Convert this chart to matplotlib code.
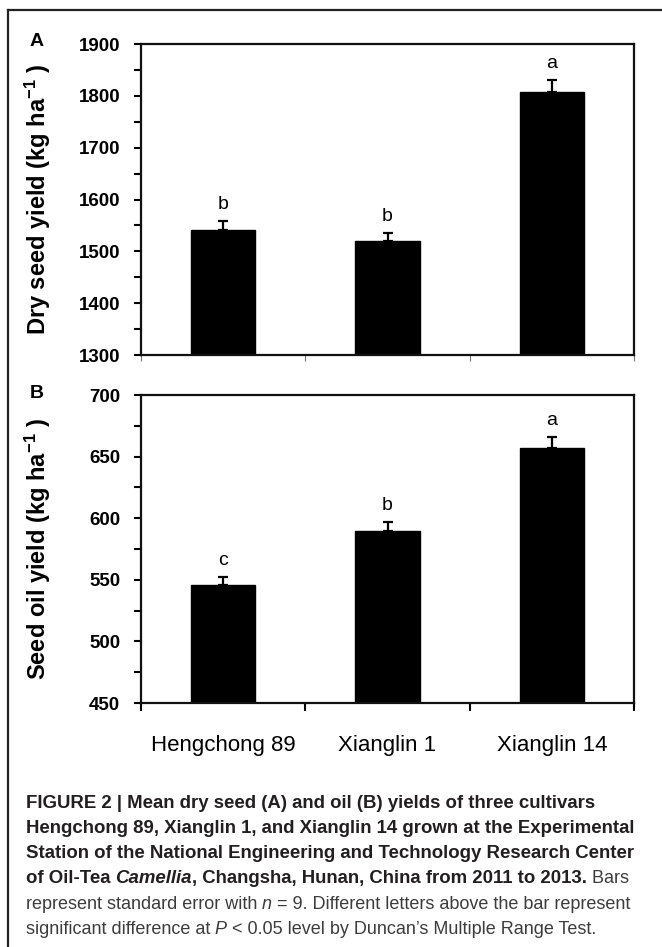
import matplotlib
matplotlib.use("Agg")
import matplotlib.pyplot as plt
from matplotlib import font_manager
from matplotlib.ticker import MultipleLocator, FixedLocator, NullFormatter
from matplotlib.lines import Line2D

# ---------------- data ----------------
cultivars = ["Hengchong 89", "Xianglin 1", "Xianglin 14"]
dry_seed = [1541, 1520, 1808]
dry_seed_se = [18, 15, 22]
dry_seed_letters = ["b", "b", "a"]
seed_oil = [546, 590, 657]
seed_oil_se = [6, 7, 9]
seed_oil_letters = ["c", "b", "a"]

W, H = 662, 947
plt.rcParams['font.family'] = ['Liberation Sans', 'DejaVu Sans']
plt.rcParams['mathtext.fontset'] = 'custom'
plt.rcParams['mathtext.rm'] = 'Liberation Sans:bold'
plt.rcParams['mathtext.bf'] = 'Liberation Sans:bold'
plt.rcParams['mathtext.it'] = 'Liberation Sans:italic'

fig = plt.figure(figsize=(W / 100, H / 100), dpi=100)

def fx(px):
    return px / W

def fy(py):
    return 1 - py / H

def make_axes(top, bottom):
    return fig.add_axes([fx(141), fy(bottom), fx(634) - fx(141), fy(top) - fy(bottom)])

axA = make_axes(44, 355)
axB = make_axes(395, 703)

x = list(range(len(cultivars)))

def draw_panel(ax, vals, se, letters, ylim, major, minor, ylabel, show_xlabels):
    ax.bar(x, vals, width=0.39, color='black', edgecolor='black', zorder=2)
    ax.errorbar(x, vals, yerr=[[0] * len(se), se], fmt='none', ecolor='black',
                elinewidth=1.6, capsize=3.5, capthick=1.6, zorder=3)
    for xi, v, s, l in zip(x, vals, se, letters):
        ax.annotate(l, (xi, v + s), xytext=(0, 12), textcoords='offset points',
                    ha='center', va='center', fontsize=14, color='black')
    ax.set_xlim(-0.5, 2.5)
    ax.set_ylim(*ylim)
    ax.yaxis.set_major_locator(MultipleLocator(major))
    ax.yaxis.set_minor_locator(MultipleLocator(minor))
    ax.tick_params(axis='y', which='both', direction='out', length=5, width=1.5,
                   labelsize=13.5, pad=10)
    for lab in ax.get_yticklabels():
        lab.set_fontweight('bold')
    ax.xaxis.set_major_locator(FixedLocator(x))
    ax.xaxis.set_minor_locator(FixedLocator([-0.5, 0.5, 1.5, 2.5]))
    ax.xaxis.set_minor_formatter(NullFormatter())
    if show_xlabels:
        ax.set_xticklabels(cultivars, fontsize=16)
        ax.tick_params(axis='x', which='major', length=0, pad=23)
        ax.tick_params(axis='x', which='minor', length=6, width=1.5, direction='out')
    else:
        ax.set_xticklabels([])
        ax.tick_params(axis='x', which='major', length=0)
        ax.tick_params(axis='x', which='minor', length=4, width=0.8,
                       color='#777777', direction='out')
    for sp in ax.spines.values():
        sp.set_linewidth(1.6)
        sp.set_color('#111111')
    ax.set_ylabel(ylabel, fontsize=17, fontweight='bold', labelpad=8)
    ax.yaxis.set_label_coords(fx(53 - 141) / (fx(634) - fx(141)), 0.5)

draw_panel(axA, dry_seed, dry_seed_se, dry_seed_letters, (1300, 1900), 100, 50,
           r'Dry seed yield (kg ha$^{\mathregular{-1}}$ )', False)
draw_panel(axB, seed_oil, seed_oil_se, seed_oil_letters, (450, 700), 50, 25,
           r'Seed oil yield (kg ha$^{\mathregular{-1}}$ )', True)

fig.text(fx(37), fy(42), 'A', fontsize=14, fontweight='bold', ha='center', va='center')
fig.text(fx(37), fy(394), 'B', fontsize=14, fontweight='bold', ha='center', va='center')

# border lines
fig.add_artist(Line2D([fx(8), fx(8)], [fy(10), fy(H + 5)], color='#222222', lw=1.6))
fig.add_artist(Line2D([fx(8), fx(W + 5)], [fy(10), fy(10)], color='#222222', lw=1.6))

# ---------------- caption ----------------
names = {f.name for f in font_manager.fontManager.ttflist}
cap_family = ['Liberation Sans Narrow', 'Liberation Sans'] if 'Liberation Sans Narrow' in names else ['Liberation Sans']

renderer = fig.canvas.get_renderer()
BOLD_C = '#231f20'
REG_C = '#3c3c3c'

def measure(text, size, weight, style='normal'):
    t = fig.text(0, 0, text, fontsize=size, fontweight=weight, fontstyle=style,
                 family=cap_family)
    w = t.get_window_extent(renderer).width
    t.remove()
    return w

bold_size = 10 * 610 / measure("Station of the National Engineering and Technology Research Center", 10, 'bold')
reg_size = 10 * 608 / measure("represent standard error with n = 9. Different letters above the bar represent", 10, 'normal')

caption_lines = [
    [("FIGURE 2 | Mean dry seed (A) and oil (B) yields of three cultivars", 'bold', 'normal')],
    [("Hengchong 89, Xianglin 1, and Xianglin 14 grown at the Experimental", 'bold', 'normal')],
    [("Station of the National Engineering and Technology Research Center", 'bold', 'normal')],
    [("of Oil-Tea ", 'bold', 'normal'), ("Camellia", 'bold', 'italic'),
     (", Changsha, Hunan, China from 2011 to 2013.", 'bold', 'normal'), (" Bars", 'normal', 'normal')],
    [("represent standard error with ", 'normal', 'normal'), ("n", 'normal', 'italic'),
     (" = 9. Different letters above the bar represent", 'normal', 'normal')],
    [("significant difference at ", 'normal', 'normal'), ("P", 'normal', 'italic'),
     (" < 0.05 level by Duncan\u2019s Multiple Range Test.", 'normal', 'normal')],
]
line_y = [801, 826, 851, 876, 902, 927]

for runs, yy in zip(caption_lines, line_y):
    xpos = 25.5
    for text, weight, style in runs:
        size = bold_size if weight == 'bold' else reg_size
        color = BOLD_C if weight == 'bold' else REG_C
        t = fig.text(fx(xpos), fy(yy), text, fontsize=size, fontweight=weight,
                     fontstyle=style, family=cap_family, color=color,
                     ha='left', va='center_baseline')
        xpos += t.get_window_extent(renderer).width

fig.savefig('out.png', dpi=100)
